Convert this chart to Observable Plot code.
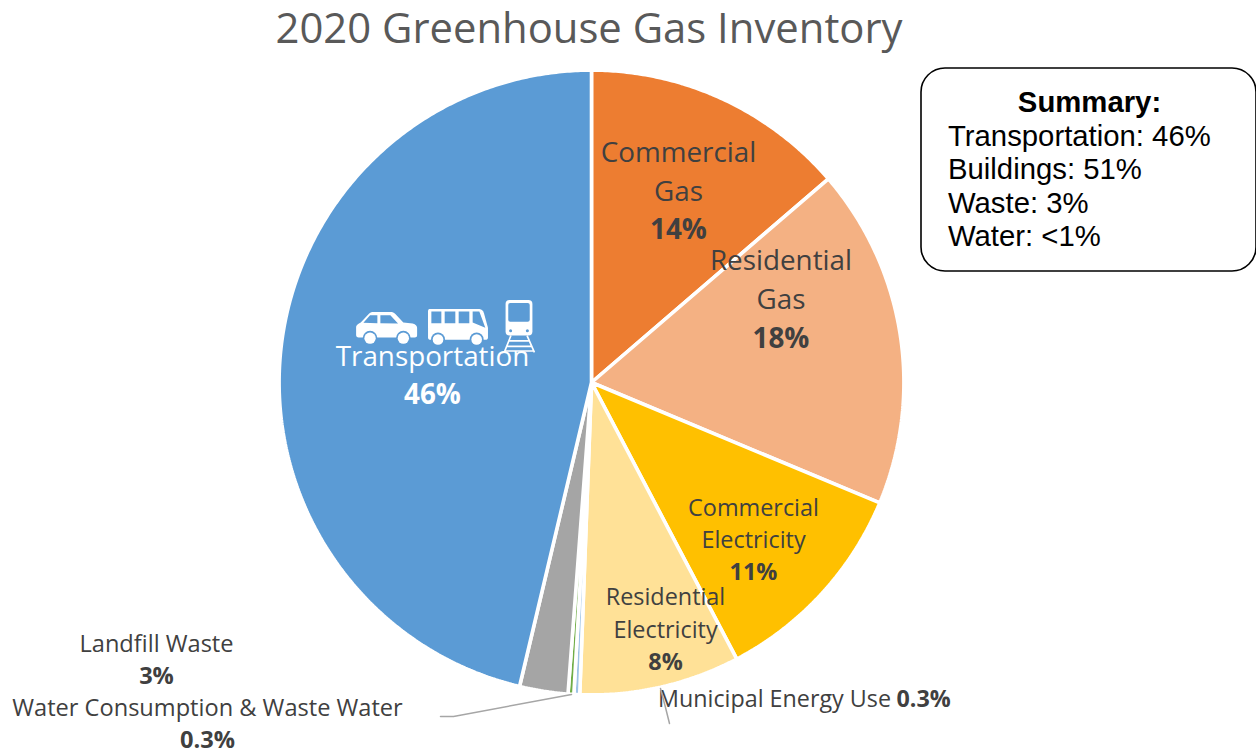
<!DOCTYPE html>
<html>
<head>
<meta charset="utf-8">
<script src="https://cdn.jsdelivr.net/npm/d3@7"></script>
<script src="https://cdn.jsdelivr.net/npm/@observablehq/plot@0.6"></script>
<style>
  html, body { margin: 0; padding: 0; background: #fff; overflow: hidden; }
  figure { margin: 0 !important; }
  figure h2 {
    margin: 0; height: 55px; line-height: 54px; width: 1178px; text-align: center;
    font: 400 41.8px/54px "Open Sans", sans-serif; color: #595959;
  }
</style>
</head>
<body>
<div id="chart"></div>
<script>
// ---- Data (clockwise from 12 o'clock) ----
const chartTitle = "2020 Greenhouse Gas Inventory";
const sliceNames = ["Commercial Gas", "Residential Gas", "Commercial Electricity", "Residential Electricity",
  "Municipal Energy Use", "Water Consumption & Waste Water", "Landfill Waste", "Transportation"];
const sliceValues = [13.7, 17.6, 11.0, 8.3, 0.3, 0.3, 2.5, 46.3];
const sliceLabels = ["14%", "18%", "11%", "8%", "0.3%", "0.3%", "3%", "46%"];
const sliceColors = ["#ED7D31", "#F4B183", "#FFC000", "#FFE197", "#9DC3E6", "#70AD47", "#A5A5A5", "#5B9BD5"];
const summaryTitle = "Summary:";
const summaryLines = ["Transportation: 46%", "Buildings: 51%", "Waste: 3%", "Water: <1%"];

// ---- Layout ----
const W = 1256, H = 755, TOP = 55;
const cx = 591, cy = 382, R = 312.4;
const ink = "#404040";
const labelFont = "'Open Sans', sans-serif";
// name lines and placement per slice label: x, first-line y, line gap, font size
const labelLayout = {
  "Commercial Gas":          {lines: ["Commercial", "Gas"], x: 678, y: 153, gap: 38.5, size: 27.8},
  "Residential Gas":         {lines: ["Residential", "Gas"], x: 780.5, y: 261, gap: 39, size: 27.8},
  "Commercial Electricity":  {lines: ["Commercial", "Electricity"], x: 753, y: 507.5, gap: 32, size: 23.4},
  "Residential Electricity": {lines: ["Residential", "Electricity"], x: 665, y: 597, gap: 32.5, size: 23.4},
  "Landfill Waste":          {lines: ["Landfill Waste"], x: 156, y: 643.5, gap: 32.2, size: 23.6},
  "Water Consumption & Waste Water": {lines: ["Water Consumption & Waste Water"], x: 207, y: 708, gap: 32.2, size: 23.6},
  "Transportation":          {lines: ["Transportation"], x: 432, y: 356.5, gap: 38, size: 27.8, fill: "#fff"}
};

// ---- Derived geometry: slice outlines from the values ----
const arcs = d3.pie().sort(null)(sliceValues);
const slicePoints = [];
arcs.forEach((a, i) => {
  const name = sliceNames[i];
  const n = Math.max(2, Math.ceil((a.endAngle - a.startAngle) / (Math.PI / 360)));
  slicePoints.push({name, x: cx, y: cy});
  for (let k = 0; k <= n; ++k) {
    const t = a.startAngle + (a.endAngle - a.startAngle) * k / n;
    slicePoints.push({name, x: cx + R * Math.sin(t), y: cy - R * Math.cos(t)});
  }
  slicePoints.push({name, x: cx, y: cy});
});

const nameRows = [], pctRows = [];
sliceNames.forEach((name, i) => {
  const l = labelLayout[name];
  if (!l) return;
  l.lines.forEach((text, j) => nameRows.push({text, x: l.x, y: l.y + j * l.gap, size: l.size, fill: l.fill || ink}));
  pctRows.push({text: sliceLabels[i], x: l.x, y: l.y + l.lines.length * l.gap, size: l.size, fill: l.fill || ink});
});

const leaderLines = [
  {id: "water", x: 571, y: 694}, {id: "water", x: 453, y: 716}, {id: "water", x: 440, y: 716},
  {id: "municipal", x: 660, y: 688}, {id: "municipal", x: 665, y: 707}, {id: "municipal", x: 669, y: 723}
];

// ---- Pictograms ----
const blue = "#5B9BD5";
const svgURI = (w, h, body) => "data:image/svg+xml," + encodeURIComponent(
  `<svg xmlns="http://www.w3.org/2000/svg" viewBox="0 0 ${w} ${h}" width="${w}" height="${h}">${body}</svg>`);
const wheel = (x, y, r) => `<circle cx="${x}" cy="${y}" r="${r + 5}" fill="${blue}"/><circle cx="${x}" cy="${y}" r="${r}" fill="#fff"/>`;
const carIcon = svgURI(184, 100,
  `<path fill="#fff" d="M0,70 L0,46 Q2,38 14,33 L38,7 Q43,1 52,1 L104,1 Q112,1 118,7 L142,33 L170,36 Q184,40 184,52 L184,68 Q184,78 176,78 L8,78 Q0,78 0,70 Z"/>
   <path fill="${blue}" d="M22,34 L42,11 L64,11 L64,35 Z M73,11 L103,11 L126,36 L73,35 Z"/>` + wheel(42, 80, 17) + wheel(142, 80, 17));
const busIcon = svgURI(180, 112,
  `<path fill="#fff" d="M6,1 L150,1 Q164,1 168,14 L180,58 L180,86 Q180,94 172,94 L8,94 Q0,94 0,86 L0,7 Q0,1 6,1 Z"/>
   <path fill="${blue}" d="M10,9 H40 V44 H10 Z M50,9 H82 V44 H50 Z M92,9 H124 V44 H92 Z M134,9 H154 L172,58 L134,42 Z"/>` + wheel(30, 93, 16) + wheel(146, 93, 16));
const trainIcon = svgURI(95, 158,
  `<rect x="6" y="0" width="80" height="106" rx="12" fill="#fff"/>
   <rect x="14" y="9" width="64" height="56" rx="6" fill="${blue}"/>
   <path stroke="#fff" stroke-width="3" d="M32,6 H60"/>
   <circle cx="21" cy="92" r="4.5" fill="${blue}"/><circle cx="71" cy="92" r="4.5" fill="${blue}"/>
   <path stroke="#fff" stroke-width="5" fill="none" d="M22,106 L2,156 M70,106 L92,156 M14,122 H78 M8,138 H84 M4,152 H88"/>`);
const icons = [
  {src: carIcon, x: 386.2, y: 327.7, width: 61.3, height: 33.3},
  {src: busIcon, x: 457.5, y: 326.7, width: 60, height: 37.3},
  {src: trainIcon, x: 519, y: 326, width: 32, height: 53}
];

// ---- Summary box text ----
const summaryRows = summaryLines.map((text, i) => ({text, x: 947.5, y: 136 + i * 33.4}));

const chart = Plot.plot({
  title: chartTitle,
  width: W, height: H - TOP, margin: 0,
  x: {type: "linear", domain: [0, W], range: [0, W], axis: null},
  y: {type: "linear", domain: [TOP, H], range: [0, H - TOP], axis: null},
  color: {type: "ordinal", domain: sliceNames, range: sliceColors},
  marks: [
    Plot.line(slicePoints, {x: "x", y: "y", z: "name", fill: "name", stroke: "#fff", strokeWidth: 3.6, strokeLinejoin: "miter"}),
    Plot.image(icons, {x: "x", y: "y", width: "width", height: "height", src: "src"}),
    Plot.text(nameRows, {x: "x", y: "y", text: "text", fontSize: "size", fill: "fill", fontFamily: labelFont, textAnchor: "middle", lineAnchor: "middle"}),
    Plot.text(pctRows, {x: "x", y: "y", text: "text", fontSize: "size", fill: "fill", fontFamily: labelFont, fontWeight: 700, textAnchor: "middle", lineAnchor: "middle"}),
    Plot.text(["Municipal Energy Use"], {x: 890.5, y: 699, text: d => d, fontSize: 23.3, fill: ink, fontFamily: labelFont, textAnchor: "end", lineAnchor: "middle"}),
    Plot.text([sliceLabels[4]], {x: 896, y: 699, text: d => d, fontSize: 23.3, fill: ink, fontFamily: labelFont, fontWeight: 700, textAnchor: "start", lineAnchor: "middle"}),
    Plot.line(leaderLines, {x: "x", y: "y", z: "id", stroke: "#A6A6A6", strokeWidth: 1.5}),
    Plot.rect([0], {x1: 921, x2: 1256, y1: 68, y2: 271, rx: 24, fill: "#fff", stroke: "#000", strokeWidth: 1.6}),
    Plot.text([summaryTitle], {x: 1089, y: 102.5, text: d => d, fontSize: 29.3, fontWeight: 700, fill: "#000", fontFamily: "'Liberation Sans', Arial, sans-serif", textAnchor: "middle", lineAnchor: "middle"}),
    Plot.text(summaryRows, {x: "x", y: "y", text: "text", fontSize: 29.3, fill: "#000", fontFamily: "'Liberation Sans', Arial, sans-serif", textAnchor: "start", lineAnchor: "middle"})
  ]
});
document.getElementById("chart").append(chart);
</script>
</body>
</html>
